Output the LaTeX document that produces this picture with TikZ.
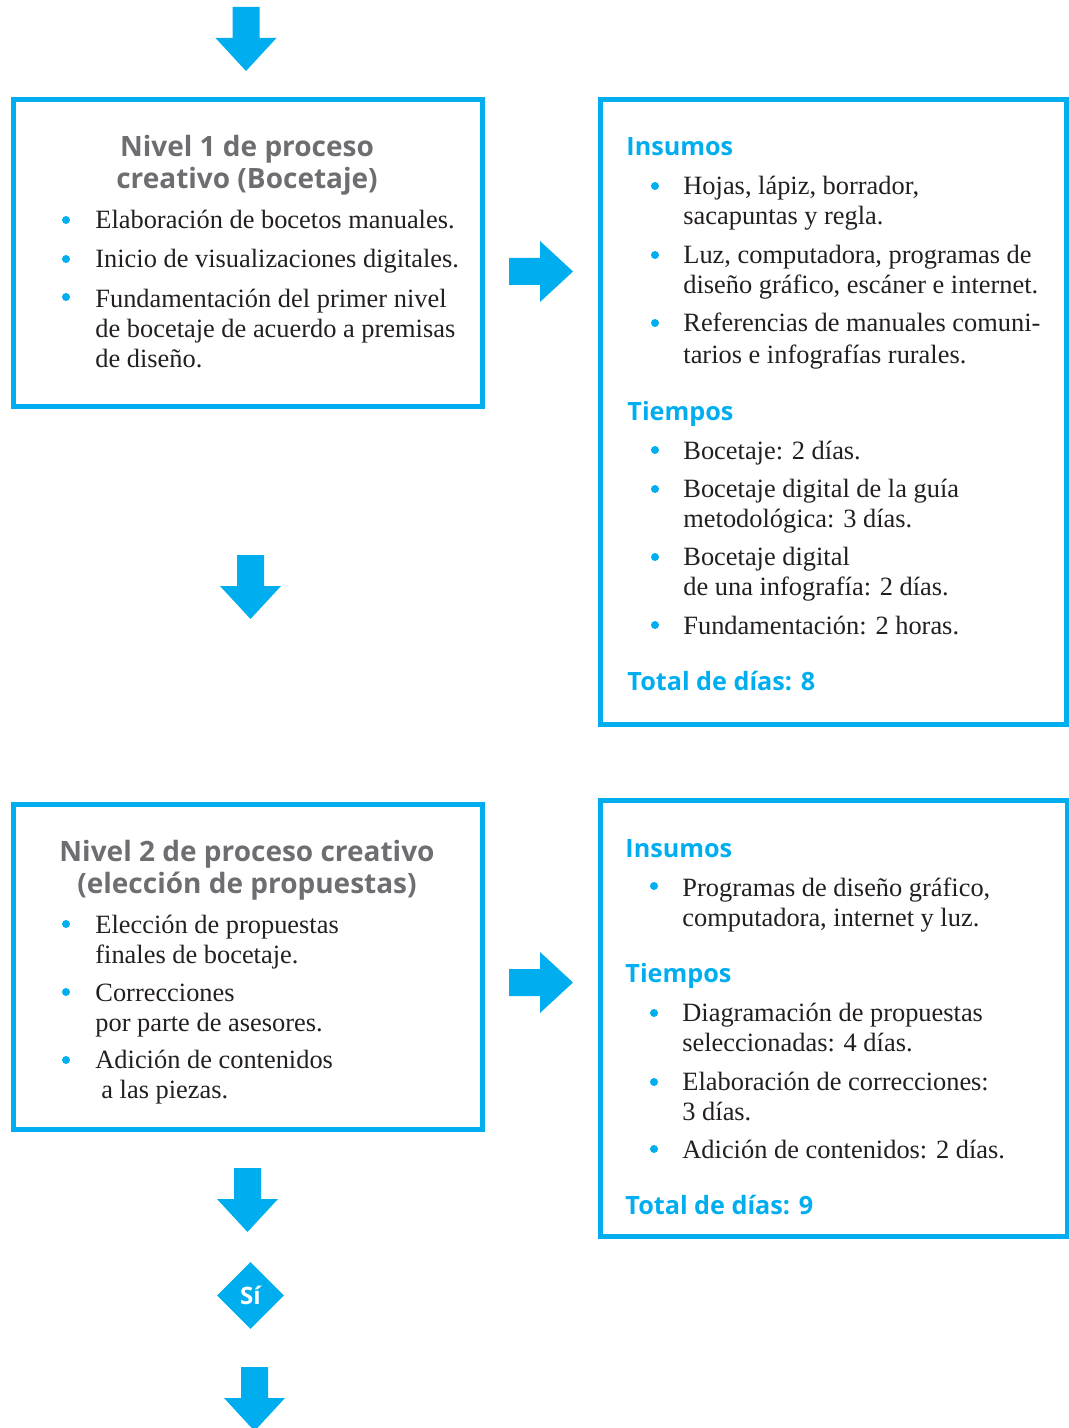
\documentclass[tikz,border=0pt]{standalone}
\usepackage{fontspec}
\setmainfont{Liberation Serif}
\newfontfamily\titfont{Open Sans}
\usetikzlibrary{shapes.geometric}
\definecolor{azul}{HTML}{00AEEF}
\definecolor{gris}{HTML}{6D6E71}
\definecolor{negro}{HTML}{231F20}
\begin{document}
\begin{tikzpicture}[x=0.5pt, y=-0.5pt,
  caja/.style={draw=azul, line width=2.5pt},
  flecha/.style={fill=azul},
  titulo/.style={font=\titfont\bfseries\fontsize{14}{16}\selectfont, text=gris, align=center, anchor=base, inner sep=0pt},
  rotulo/.style={font=\titfont\bfseries\fontsize{12.6}{15}\selectfont, text=azul, anchor=base west, inner sep=0pt},
  item/.style={font=\fontsize{13.2}{15}\selectfont, text=negro, align=left, anchor=base west, inner sep=0pt}]
\useasboundingbox (0,0) rectangle (1069,1428);

% cajas
\draw[caja] (13,100) rectangle (482.5,406.5);
\draw[caja] (600.5,99.5) rectangle (1066.5,724.5);
\draw[caja] (13,804.5) rectangle (482.5,1129.5);
\draw[caja] (600,800.5) rectangle (1067,1236);

% flechas
\foreach \x/\y/\r in {246/7/-90, 250.5/555/-90, 509/271.5/0, 509/982.5/0, 247.5/1168/-90, 254.5/1367/-90}
  \fill[flecha, shift={(\x,\y)}, rotate=\r] (0,-13.5) -- (31,-13.5) -- (31,-30.5) -- (64,0) -- (31,30.5) -- (31,13.5) -- (0,13.5) -- cycle;

% nivel 1 (base = ultima linea)
\node[titulo] (t1) at (247,189) {Nivel 1 de proceso\\creativo (Bocetaje)};
\node[item] (e1) at (95,229) {Elaboración de bocetos manuales.};
\node[item] (e2) at (95,268) {Inicio de visualizaciones digitales.};
\node[item] (e3) at (95,367) {Fundamentación del primer nivel\\de bocetaje de acuerdo a premisas\\de diseño.};
\foreach \y in {220,259,297} \fill[azul] (66,\y) circle (4);

% insumos y tiempos 1
\node[rotulo] (ins1) at (626,156) {Insumos};
\node[item] (h1) at (683,225) {Hojas, lápiz, borrador,\\sacapuntas y regla.};
\node[item] (h2) at (683,294) {Luz, computadora, programas de\\diseño gráfico, escáner e internet.};
\node[item] (h3) at (683,364) {Referencias de manuales comuni-\\[1pt]tarios e infografías rurales.};
\node[rotulo] (tie1) at (627,420) {Tiempos};
\node[item] (d1) at (683,459) {Bocetaje: 2 días.};
\node[item] (d2) at (683,527) {Bocetaje digital de la guía\\metodológica: 3 días.};
\node[item] (d3) at (683,595) {Bocetaje digital\\de una infografía: 2 días.};
\node[item] (d4) at (683,634) {Fundamentación: 2 horas.};
\node[rotulo] (tot1) at (627,690) {Total de días: 8};
\foreach \y in {186,255,323,450,489,557,625} \fill[azul] (655,\y) circle (4);

% nivel 2
\node[titulo] (t2) at (247,893) {Nivel 2 de proceso creativo\\(elección de propuestas)};
\node[item] (p1) at (95,963) {Elección de propuestas\\finales de bocetaje.};
\node[item] (p2) at (95,1031) {Correcciones\\por parte de asesores.};
\node[item] (p3) at (95,1098) {Adición de contenidos\\\hspace{3pt}a las piezas.};
\foreach \y in {924,992,1060} \fill[azul] (66,\y) circle (4);

% insumos y tiempos 2
\node[rotulo] (ins2) at (625,857) {Insumos};
\node[item] (g1) at (682,926) {Programas de diseño gráfico,\\computadora, internet y luz.};
\node[rotulo] (tie2) at (625,982) {Tiempos};
\node[item] (c1) at (682,1051) {Diagramación de propuestas\\seleccionadas: 4 días.};
\node[item] (c2) at (682,1120) {Elaboración de correcciones:\\3 días.};
\node[item] (c3) at (682,1158) {Adición de contenidos: 2 días.};
\node[rotulo] (tot2) at (625,1214) {Total de días: 9};
\foreach \y in {886,1013,1082,1149} \fill[azul] (654,\y) circle (4);

% decision
\node[diamond, fill=azul, minimum width=33.5pt, minimum height=33.5pt, inner sep=0pt, text=white,
  font=\titfont\bfseries\fontsize{12}{14}\selectfont] (si) at (250.5,1295.5) {Sí};
\end{tikzpicture}
\end{document}
